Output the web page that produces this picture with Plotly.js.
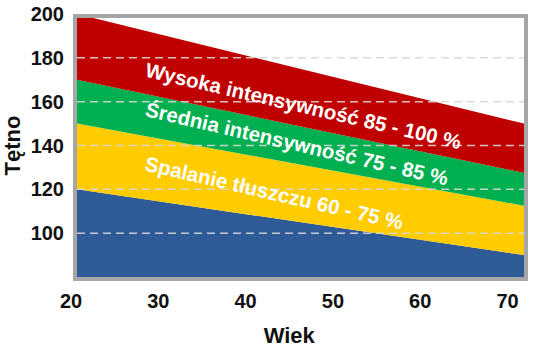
<!DOCTYPE html>
<html>
<head>
<meta charset="utf-8">
<script src="https://cdn.plot.ly/plotly-3.0.1.min.js"></script>
<style>html,body{margin:0;padding:0;background:#fff;}#chart{width:540px;height:351px;}</style>
</head>
<body>
<div id="chart"></div>
<script>
// Age (Wiek) and heart-rate (Tętno) zone boundaries
const ages = [20, 30, 40, 50, 60, 70];
const hr60 = [120, 114, 108, 102, 96, 90];
const hr75 = [150, 142.5, 135, 127.5, 120, 112.5];
const hr85 = [170, 161.5, 153, 144.5, 136, 127.5];
const hr100 = [200, 190, 180, 170, 160, 150];

const zoneNames = ['Poniżej 60 %', 'Spalanie tłuszczu 60 - 75 %', 'Średnia intensywność 75 - 85 %', 'Wysoka intensywność 85 - 100 %'];
const zoneColors = ['#2e5b97', '#ffcc00', '#00b050', '#c00000'];
const zoneTops = [hr60, hr75, hr85, hr100];

const yTicks = [100, 120, 140, 160, 180, 200];
const xTicks = [20, 30, 40, 50, 60, 70];

// label positions (age, heart rate) for the zone texts
const labelAges = [42.0, 44.6, 45.3];
const labelHR = [118.6, 141.0, 158.4];

const traces = zoneTops.map((tops, i) => ({
  x: ages, y: tops, type: 'scatter', mode: 'lines',
  line: {width: 0, color: zoneColors[i]},
  fill: i === 0 ? 'tozeroy' : 'tonexty',
  fillcolor: zoneColors[i],
  name: zoneNames[i], hoverinfo: 'skip', showlegend: false
}));
// invisible trace that carries the tick-label axis
traces.push({x: xTicks, y: hr100, xaxis: 'x2', type: 'scatter', mode: 'lines',
  line: {width: 0, color: 'rgba(0,0,0,0)'}, hoverinfo: 'skip', showlegend: false});

const tickFont = {family: 'Liberation Sans, Arial, sans-serif', size: 20, color: '#111', weight: 'bold'};
const titleFont = {family: 'Liberation Sans, Arial, sans-serif', size: 22, color: '#111', weight: 'bold'};

const grid = yTicks.filter(v => v < 200).map(v => ({
  type: 'line', xref: 'x domain', yref: 'y', x0: 0, x1: 1, y0: v, y1: v,
  line: {color: 'rgba(215,215,215,0.9)', width: 1.5, dash: '8px,5px'}, layer: 'above'
}));
const border = {type: 'rect', xref: 'x domain', yref: 'y domain', x0: -0.0045, x1: 1.0045, y0: -0.0076, y1: 0.9924,
  line: {color: '#a6a6a6', width: 4}, layer: 'above'};

const labels = [0, 1, 2].map(i => ({
  x: labelAges[i], y: labelHR[i], xref: 'x', yref: 'y',
  text: zoneNames[i + 1], showarrow: false, textangle: 13,
  xanchor: 'center', yanchor: 'middle',
  font: {family: 'Liberation Sans, Arial, sans-serif', size: 20.5, color: '#ffffff', weight: 'bold'}
}));

const layout = {
  width: 540, height: 351,
  margin: {l: 71, r: 16, t: 14, b: 74},
  paper_bgcolor: '#ffffff', plot_bgcolor: 'rgba(0,0,0,0)',
  showlegend: false,
  xaxis: {domain: [0.01325, 1], anchor: 'y', range: [20, 70], showticklabels: false, showgrid: false, zeroline: false, ticks: '', showline: false, fixedrange: true},
  xaxis2: {domain: [0, 0.9636], anchor: 'y', range: [20, 70], tickvals: xTicks, ticktext: xTicks.map(String),
    showgrid: false, zeroline: false, ticks: '', showline: false, tickfont: tickFont, ticklabelstandoff: 10,
    title: {text: 'Wiek', font: titleFont, standoff: 16}},
  yaxis: {anchor: 'x', range: [80, 200], tickvals: yTicks, ticktext: yTicks.map(String), showgrid: false, zeroline: false,
    ticks: '', showline: false, tickfont: tickFont, ticklabelstandoff: 12,
    title: {text: 'Tętno', font: titleFont, standoff: 7}},
  shapes: grid.concat([border]),
  annotations: labels
};

Plotly.newPlot('chart', traces, layout, {displayModeBar: false, staticPlot: true});
</script>
</body>
</html>
